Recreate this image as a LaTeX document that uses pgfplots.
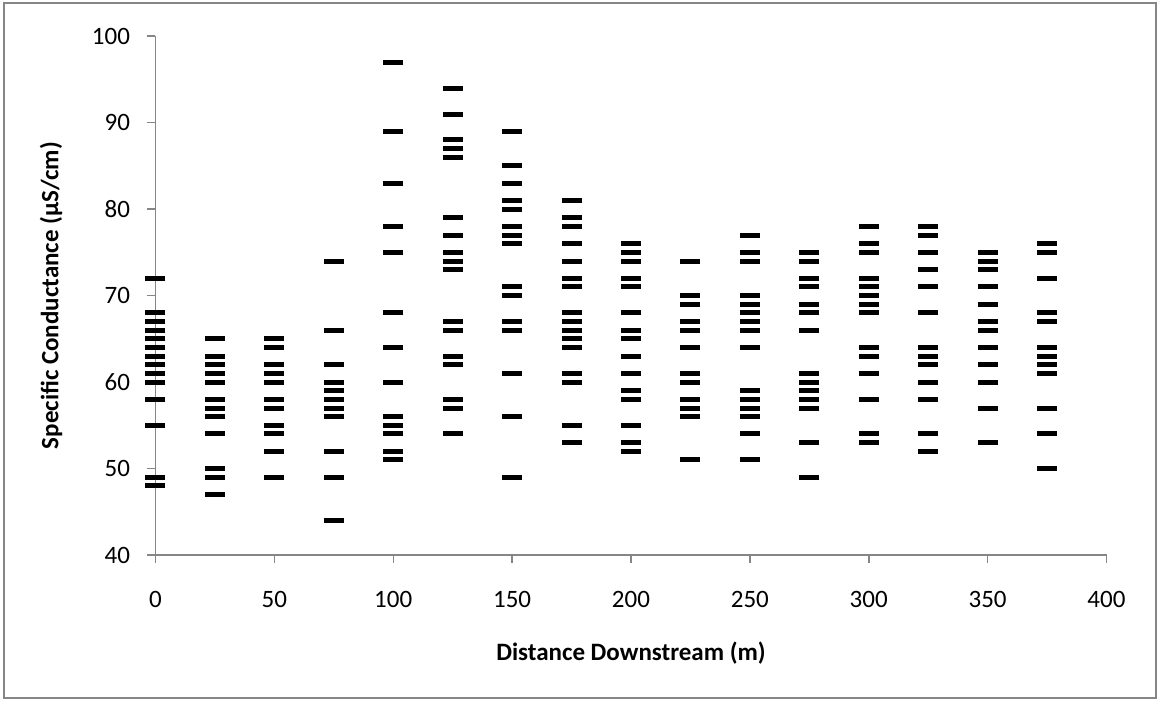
\documentclass[border=0pt]{standalone}
\usepackage{fontspec}
\setmainfont{Carlito}
\usepackage{pgfplots}
\pgfplotsset{compat=1.18}
\usepackage{pgfplotstable}
\definecolor{axgray}{HTML}{868686}
\pgfplotstableread{
x y
0 72
0 68
0 67
0 66
0 65
0 64
0 63
0 62
0 61
0 60
0 58
0 55
0 49
0 48
25 65
25 63
25 62
25 61
25 60
25 58
25 57
25 56
25 54
25 50
25 49
25 47
50 65
50 64
50 62
50 61
50 60
50 58
50 57
50 55
50 54
50 52
50 49
75 74
75 66
75 62
75 60
75 59
75 58
75 57
75 56
75 52
75 49
75 44
100 97
100 89
100 83
100 78
100 75
100 68
100 64
100 60
100 56
100 55
100 54
100 52
100 51
125 94
125 91
125 88
125 87
125 86
125 79
125 77
125 75
125 74
125 73
125 67
125 66
125 63
125 62
125 58
125 57
125 54
150 89
150 85
150 83
150 81
150 80
150 78
150 77
150 76
150 71
150 70
150 67
150 66
150 61
150 56
150 49
175 81
175 79
175 78
175 76
175 74
175 72
175 71
175 68
175 67
175 66
175 65
175 64
175 61
175 60
175 55
175 53
200 76
200 75
200 74
200 72
200 71
200 68
200 66
200 65
200 63
200 61
200 59
200 58
200 55
200 53
200 52
225 74
225 70
225 69
225 67
225 66
225 64
225 61
225 60
225 58
225 57
225 56
225 51
250 77
250 75
250 74
250 70
250 69
250 68
250 67
250 66
250 64
250 59
250 58
250 57
250 56
250 54
250 51
275 75
275 74
275 72
275 71
275 69
275 68
275 66
275 61
275 60
275 59
275 58
275 57
275 53
275 49
300 78
300 76
300 75
300 72
300 71
300 70
300 69
300 68
300 64
300 63
300 61
300 58
300 54
300 53
325 78
325 77
325 75
325 73
325 71
325 68
325 64
325 63
325 62
325 60
325 58
325 54
325 52
350 75
350 74
350 73
350 71
350 69
350 67
350 66
350 64
350 62
350 60
350 57
350 53
375 76
375 75
375 72
375 68
375 67
375 64
375 63
375 62
375 61
375 57
375 54
375 50
}\sctable
\begin{document}
\begin{tikzpicture}
\useasboundingbox (-155.5pt,-148pt) rectangle (1003.5pt,555pt);
\draw[axgray, line width=1.5pt] (-151.5pt,-143pt) rectangle (1000.5pt,552pt);
\begin{axis}[
  at={(0pt,0pt)}, anchor=origin,
  scale only axis,
  width=951pt, height=518.8pt,
  xmin=0, xmax=400, ymin=40, ymax=100,
  xtick={0,50,...,400}, ytick={40,50,...,100},
  axis x line*=bottom, axis y line*=left,
  axis line style={axgray, line width=1.5pt, -},
  tick style={axgray, line width=1.5pt},
  major tick length=8pt,
  tick align=outside,
  clip=false,
  /pgf/number format/assume math mode=true,
  ticklabel style={font=\fontsize{25}{30}\selectfont, text=black},
  yticklabel style={xshift=-14pt},
  xticklabel style={yshift=-25pt},
  xlabel={\textbf{Distance Downstream (m)}},
  ylabel={\textbf{Specific Conductance (µS/cm)}},
  label style={font=\fontsize{25}{30}\selectfont},
  xlabel style={at={(axis description cs:0.5,0)}, anchor=center, yshift=-98pt},
  ylabel style={at={(axis description cs:0,0.5)}, anchor=center, yshift=104.5pt},
]
\addplot[only marks, mark=-, mark size=10pt, mark options={line width=5pt, black}] table[x=x, y=y] {\sctable};
\end{axis}
\end{tikzpicture}
\end{document}
